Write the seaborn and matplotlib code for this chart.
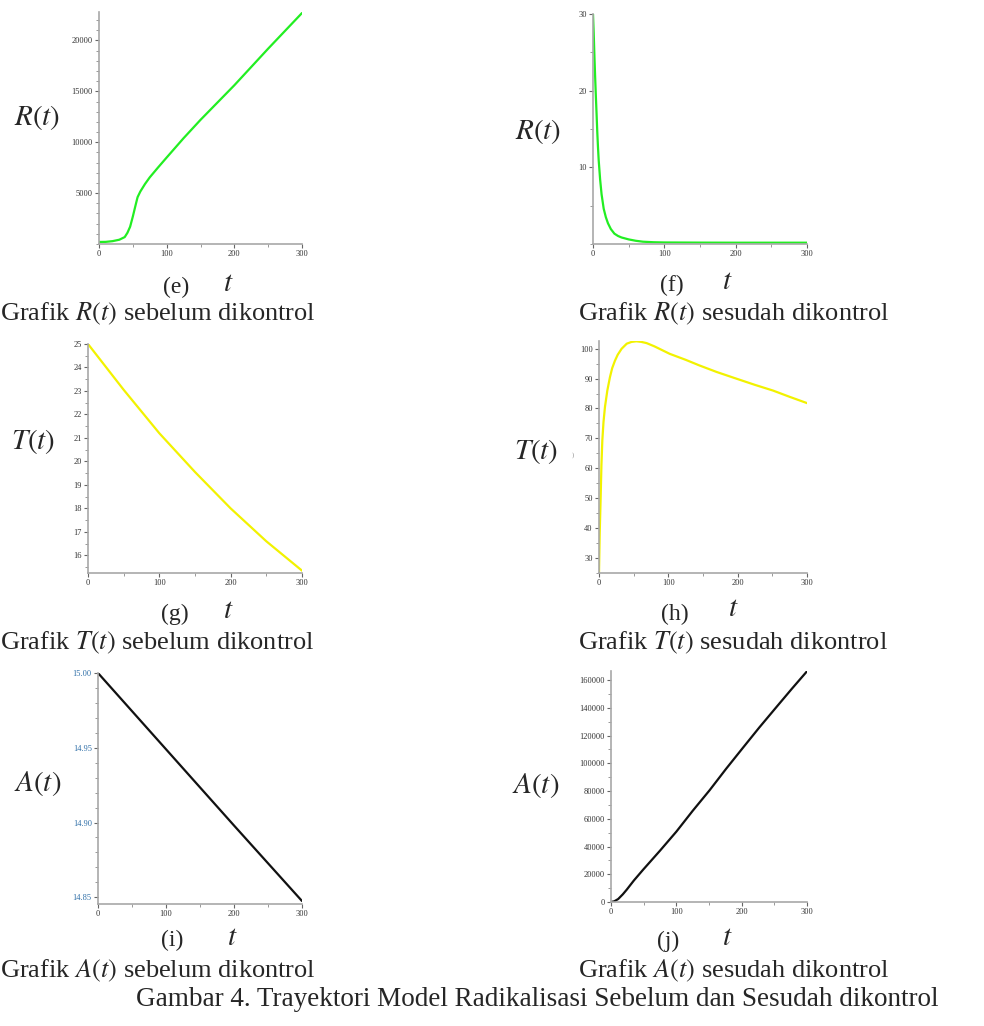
import numpy as np
import pandas as pd
import matplotlib
matplotlib.use("Agg")
import matplotlib.pyplot as plt
from matplotlib.ticker import MultipleLocator, FixedLocator
import seaborn as sns

sns.set_style("white")
plt.rcParams['font.family'] = ['Liberation Serif', 'DejaVu Serif']
plt.rcParams['mathtext.fontset'] = 'stix'

# ---------------- data ----------------
t_e = [0, 10, 20, 30, 38, 42, 46, 50, 54, 57, 61, 68, 75, 87, 100, 125, 150, 175, 200, 225, 250, 275, 300]
R_before = [200, 210, 280, 420, 680, 1100, 1700, 2700, 3800, 4600, 5150, 5900, 6550, 7500, 8500,
            10400, 12200, 13900, 15600, 17400, 19200, 20950, 22700]

t_f = [0, 1, 2, 3, 4, 5, 6, 7, 8, 10, 12, 15, 18, 21, 25, 30, 35, 40, 50, 60, 70, 85, 100, 150, 200, 250, 300]
R_after = [30, 27.5, 24.5, 21.8, 19.3, 17, 14.6, 12.6, 10.9, 8.4, 6.5, 4.6, 3.5, 2.7, 1.95, 1.35, 1.05,
           0.85, 0.6, 0.42, 0.3, 0.23, 0.2, 0.18, 0.17, 0.17, 0.17]

t_g = [0, 50, 100, 150, 200, 250, 300]
T_before = [25, 23.05, 21.2, 19.55, 18.0, 16.6, 15.35]

t_h = [0, 1, 2.4, 3.5, 4.8, 6.5, 8.6, 12, 15.8, 19, 23, 27, 32.6, 40, 47, 54, 61, 68.6, 80, 102,
       125, 145, 170, 198, 225, 251, 275, 300]
T_after = [25, 38, 50.3, 61, 69.3, 75.5, 80.5, 86, 90.5, 93.5, 96, 98, 100, 101.7, 102.3, 102.5, 102.3,
           101.9, 100.8, 98.3, 96.3, 94.4, 92.2, 90, 87.9, 86, 83.9, 81.8]

t_i = [0, 100, 200, 300]
A_before = [15.00, 14.949, 14.898, 14.8475]

t_j = [0, 5, 11, 18, 24, 35, 49, 75, 100, 125, 151, 176, 202, 227, 253, 277, 300]
A_after = [0, 500, 2150, 5500, 8850, 15500, 23200, 37000, 50700, 65700, 80600, 95900, 111200,
           125800, 140400, 153800, 166300]

x_ticks = [0, 100, 200, 300]

W, H = 984, 1026
fig = plt.figure(figsize=(W / 100, H / 100), dpi=100)
fig.patch.set_facecolor('white')


def rect(l, r, t, b):
    return [l / W, 1 - b / H, (r - l) / W, (b - t) / H]


def ftxt(x, y, s, size, **kw):
    fig.text(x / W, 1 - y / H, s, fontsize=size, ha=kw.pop('ha', 'center'), va=kw.pop('va', 'center'), **kw)


def panel(box, t, v, color, ylim, yticks, yminor, ylabels=None, tickcolor='#333333'):
    ax = fig.add_axes(rect(*box))
    df = pd.DataFrame({'t': t, 'v': v})
    sns.lineplot(data=df, x='t', y='v', ax=ax, color=color, linewidth=1.6)
    ax.set_xlim(0, 300)
    ax.set_ylim(*ylim)
    ax.set_xlabel('')
    ax.set_ylabel('')
    for s in ['top', 'right']:
        ax.spines[s].set_visible(False)
    for s in ['left', 'bottom']:
        ax.spines[s].set_color('#a8a8a8')
        ax.spines[s].set_linewidth(1.2)
    ax.xaxis.set_major_locator(FixedLocator(x_ticks))
    ax.xaxis.set_minor_locator(MultipleLocator(50))
    ax.yaxis.set_major_locator(FixedLocator(yticks))
    ax.yaxis.set_minor_locator(MultipleLocator(yminor))
    if ylabels is not None:
        ax.set_yticklabels(ylabels)
    ax.tick_params(axis='both', which='both', bottom=True, left=True, top=False, right=False)
    ax.tick_params(axis='both', which='major', length=3, width=0.8, color='#666666',
                   labelsize=6, labelcolor=tickcolor, pad=1.5, direction='out')
    ax.tick_params(axis='both', which='minor', length=2, width=0.6, color='#888888', direction='out')
    ax.tick_params(axis='x', which='major', labelcolor='#333333')
    ax.set_facecolor('white')
    return ax


# (e)
panel((99, 302, 12, 244), t_e, R_before, '#22ee22', (0, 22800), [5000, 10000, 15000, 20000], 1000)
# (f)
panel((593, 807, 14, 244), t_f, R_after, '#22ee22', (0, 30), [10, 20, 30], 5)
# (g)
panel((88, 302, 344, 573), t_g, T_before, '#f2f200', (15.25, 25.0), list(range(16, 26)), 0.5)
# (h)
panel((599, 807, 341, 573), t_h, T_after, '#f2f200', (24.9, 102.6), list(range(30, 101, 10)), 5)
# (i)
panel((98, 302, 673, 904), t_i, A_before, '#111111', (14.8455, 15.0), [14.85, 14.90, 14.95, 15.00], 0.01,
      ylabels=['14.85', '14.90', '14.95', '15.00'], tickcolor='#2f6fa8')
# (j)
panel((611, 807, 671, 902), t_j, A_after, '#111111', (0, 166500), list(range(0, 160001, 20000)), 10000)

# y labels
lab = 21
ftxt(37, 118, r'$R(t)$', lab)
ftxt(538, 131, r'$R(t)$', lab)
ftxt(33, 442, r'$T(t)$', lab)
ftxt(536, 452, r'$T(t)$', lab)
ftxt(573, 455, ')', 5, color='#888888')
ftxt(38, 783, r'$A(t)$', lab)
ftxt(536, 786, r'$A(t)$', lab)

# panel letters and t
cap = 19
let = 17
for (lx, ly, tx, ty, s) in [(176, 287, 228, 284, '(e)'), (672, 285, 727, 282, '(f)'),
                             (175, 614, 228, 611, '(g)'), (675, 614, 733, 609, '(h)'),
                             (172, 940, 232, 938, '(i)'), (668, 941, 727, 938, '(j)')]:
    ftxt(lx, ly, s, let)
    ftxt(tx, ty, r'$t$', lab)

# captions
ftxt(0, 314, r'Grafik $R(t)$ sebelum dikontrol', cap, ha='left')
ftxt(578, 314, r'Grafik $R(t)$ sesudah dikontrol', cap, ha='left')
ftxt(0, 643, r'Grafik $T(t)$ sebelum dikontrol', cap, ha='left')
ftxt(578, 643, r'Grafik $T(t)$ sesudah dikontrol', cap, ha='left')
ftxt(0, 971, r'Grafik $A(t)$ sebelum dikontrol', cap, ha='left')
ftxt(578, 971, r'Grafik $A(t)$ sesudah dikontrol', cap, ha='left')
ftxt(537, 1000, 'Gambar 4. Trayektori Model Radikalisasi Sebelum dan Sesudah dikontrol', 19.5)

fig.savefig('out.png', dpi=100, facecolor='white')
